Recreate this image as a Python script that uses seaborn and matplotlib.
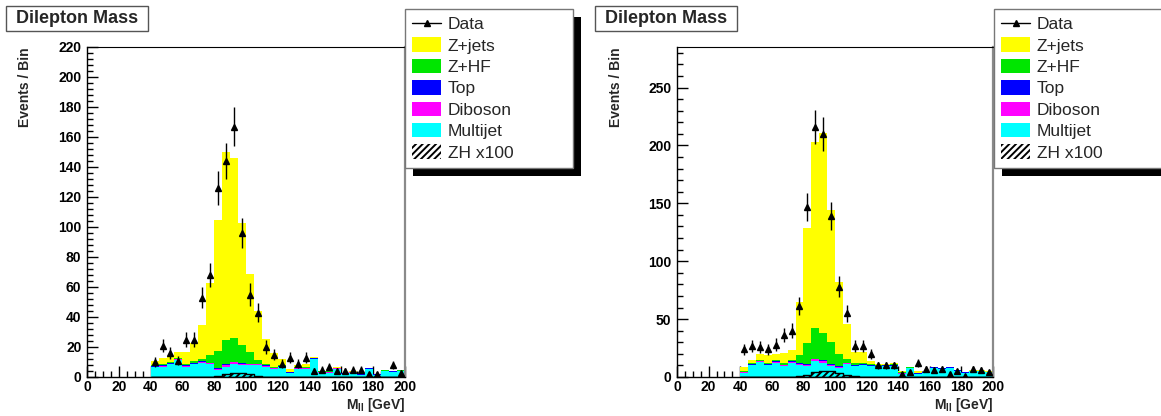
import numpy as np
import pandas as pd
import matplotlib
matplotlib.use("Agg")
import matplotlib.pyplot as plt
import seaborn as sns
from matplotlib.patches import Patch, Rectangle
from matplotlib.lines import Line2D
from matplotlib.ticker import MultipleLocator
from matplotlib.transforms import IdentityTransform

# ---------------------------------------------------------------- data
bin_edges = list(range(40, 205, 5))        # 5 GeV bins, 40-200 GeV

processes = ["Z+jets", "Z+HF", "Top", "Diboson", "Multijet"]
process_colors = ["#ffff00", "#00e600", "#0000ff", "#ff00ff", "#00ffff"]

# left channel
left_zjets = [3, 4.5, 4, 4, 7.5, 12.5, 23, 48.5, 87.7, 125.6, 120, 81.4, 52.3, 32.7, 16.2, 9.1,
              4.3, 1.9, 1.5, 2.0, 0.4, 0.3, 0.3, 0.3, 0.3, 0.3, 0.3, 0.3, 0.3, 0.3, 0.3, 0.3]
left_zhf = [0.7, 0.7, 0.7, 0.7, 1.2, 1.2, 1.6, 5.0, 11.4, 15.8, 15.9, 12.4, 7.8, 2.5, 1.0, 0.8,
            0.6, 0.5, 0.4, 0.4, 0.3, 0.3, 0.3, 0.3, 0.2, 0.2, 0.2, 0.2, 0.2, 0.2, 0.2, 0.2]
left_top = [0.4, 0.4, 0.4, 0.4, 0.4, 0.4, 0.4, 0.4, 0.4, 0.4, 0.4, 0.4, 0.4, 0.4, 0.4, 0.3,
            0.3, 0.3, 0.3, 0.3, 0.3, 0.2, 0.2, 0.2, 0.2, 0.2, 0.2, 0.2, 0.1, 0.1, 0.1, 0.1]
left_diboson = [0.4, 0.4, 0.4, 0.4, 0.4, 0.4, 0.5, 0.6, 1.0, 1.2, 1.2, 0.8, 0.5, 0.4, 0.4, 0.3,
                0.3, 0.3, 0.3, 0.3, 0.2, 0.2, 0.2, 0.2, 0.2, 0.1, 0.1, 0.1, 0.1, 0.1, 0.1, 0.1]
left_multijet = [6.5, 7, 8.5, 11.5, 7, 8.5, 9.5, 8.5, 4.5, 7, 8.5, 8, 8, 8, 7, 5.5,
                 6.5, 2.5, 5.5, 5.5, 12, 3, 3, 5.5, 2, 3, 1.5, 5.5, 1.5, 4, 3.5, 4]
left_zh100 = [0, 0, 0, 0, 0, 0, 0, 0.3, 1.0, 2.0, 2.7, 2.6, 1.8, 0.9, 0.3, 0,
              0, 0, 0, 0, 0, 0, 0, 0, 0, 0, 0, 0, 0, 0, 0, 0]
left_data = [10, 21, 16, 11, 25, 25, 53, 68, 126, 144, 167, 96, 55, 43, 20, 15,
             9, 13, 9, 13, 4, 5, 7, 4, 4, 5, 5, 2, 2, 0, 8, 3]

# right channel
right_zjets = [3.6, 2.4, 4.5, 6.7, 5.5, 9, 8, 46, 100, 161, 173, 114, 62, 29.9, 9.5, 9.1,
               2.2, 1.3, 0.9, 1.1, 0.9, 0.3, 1.2, 0.3, 0.4, 0.3, 0.3, 0.3, 0.4, 0.3, 0.3, 0.3]
right_zhf = [0.6, 1, 1, 1, 1.1, 1.5, 1.5, 7.1, 17.8, 26.2, 23.3, 18.8, 10.8, 3, 2.1, 1.5,
             1.2, 0.8, 0.6, 0.6, 0.4, 0.4, 0.4, 0.3, 0.3, 0.3, 0.3, 0.3, 0.2, 0.2, 0.2, 0.2]
right_top = [0.5, 0.5, 0.5, 0.5, 0.5, 0.5, 0.5, 0.5, 0.5, 0.5, 0.5, 0.5, 0.5, 0.5, 0.5, 0.5,
             0.5, 0.5, 0.5, 0.5, 0.4, 0.4, 0.4, 0.3, 0.3, 0.3, 0.3, 0.3, 0.2, 0.2, 0.2, 0.2]
right_diboson = [0.5, 0.5, 0.5, 0.5, 0.5, 0.5, 0.6, 0.8, 1.2, 1.8, 1.8, 1.2, 0.7, 0.5, 0.4, 0.4,
                 0.4, 0.3, 0.3, 0.3, 0.3, 0.3, 0.2, 0.2, 0.2, 0.2, 0.2, 0.2, 0.1, 0.1, 0.1, 0.1]
right_multijet = [3.4, 10, 13, 10, 12.4, 9.5, 12.4, 10.6, 9.5, 13.5, 12.4, 9.5, 8, 11.5, 9.5, 10,
                  9.5, 8.6, 9.2, 9.5, 3, 7.5, 2.8, 3.4, 7.8, 7, 7.8, 5.2, 3.6, 5, 5, 4]
right_zh100 = [0, 0, 0, 0, 0, 0, 0, 0.5, 2.0, 4.0, 5.0, 4.8, 3.8, 2.0, 0.5, 0,
               0, 0, 0, 0, 0, 0, 0, 0, 0, 0, 0, 0, 0, 0, 0, 0]
right_data = [24, 27, 26, 24, 28, 36, 40, 61, 147, 216, 210, 139, 78, 55, 27, 27,
              20, 10, 10, 10, 3, 4, 12, 7, 6, 7, 3, 5, 1, 7, 6, 4]

title_text = "Dilepton Mass"
y_title = "Events / Bin"
x_title = r"M$_{\mathbf{ll}}$ [GeV]"
legend_labels = ["Data", "Z+jets", "Z+HF", "Top", "Diboson", "Multijet", "ZH x100"]

# ---------------------------------------------------------------- style
sns.set_theme(style="ticks")
plt.rcParams["font.family"] = ["Liberation Sans", "DejaVu Sans"]
plt.rcParams["mathtext.fontset"] = "custom"
plt.rcParams["mathtext.rm"] = "Liberation Sans:bold"
plt.rcParams["mathtext.bf"] = "Liberation Sans:bold"
plt.rcParams["mathtext.it"] = "Liberation Sans:italic:bold"
plt.rcParams["hatch.linewidth"] = 1.4

W, H = 1161, 416
fig = plt.figure(figsize=(W / 100, H / 100), dpi=100)
fig.patch.set_facecolor("white")


def fx(px):
    return px / W


def fy(py):
    return 1 - py / H


edges_arr = np.asarray(bin_edges, dtype=float)
centers = 0.5 * (edges_arr[:-1] + edges_arr[1:])


def draw_panel(ax, comps, zh, data, ymax, ymajor, yminor):
    frames = []
    for name, vals in zip(processes, comps):
        frames.append(pd.DataFrame({"mass": centers, "events": vals, "process": name}))
    df = pd.concat(frames, ignore_index=True)
    sns.histplot(data=df, x="mass", weights="events", hue="process", hue_order=processes,
                 multiple="stack", bins=bin_edges, element="step", fill=True, alpha=1,
                 linewidth=0, palette=process_colors, legend=False, ax=ax)

    # ZH signal scaled by 100, hatched outline drawn unstacked
    zh_df = pd.DataFrame({"mass": centers, "events": zh})
    zh_df = zh_df[zh_df["events"] > 0]
    n_before = len(ax.collections)
    sns.histplot(data=zh_df, x="mass", weights="events", bins=bin_edges, element="step",
                 fill=True, color="black", alpha=1, linewidth=1.0, ax=ax)
    for art in ax.collections[n_before:]:
        art.set_facecolor("none")
        art.set_edgecolor("black")
        art.set_hatch("/////")
        art.set_zorder(3)

    d = np.asarray(data, dtype=float)
    mask = d > 0
    ax.errorbar(centers[mask], d[mask], yerr=np.sqrt(d[mask]), fmt="^", color="black",
                ms=4.8, elinewidth=1.0, capsize=0, zorder=6)

    ax.set_xlim(0, 200)
    ax.set_ylim(0, ymax)
    ax.xaxis.set_major_locator(MultipleLocator(20))
    ax.xaxis.set_minor_locator(MultipleLocator(5))
    ax.yaxis.set_major_locator(MultipleLocator(ymajor))
    ax.yaxis.set_minor_locator(MultipleLocator(yminor))
    ax.tick_params(which="both", direction="in", top=False, right=False, colors="black",
                   labelsize=10)
    ax.tick_params(which="major", length=8, width=1)
    ax.tick_params(which="minor", length=4, width=1)
    ax.tick_params(axis="x", pad=2)
    ax.tick_params(axis="y", pad=4)
    for lbl in ax.get_xticklabels() + ax.get_yticklabels():
        lbl.set_fontweight("bold")

    for side in ("left", "bottom"):
        ax.spines[side].set_color("black")
        ax.spines[side].set_linewidth(1.0)
    ax.spines["top"].set_color("black")
    ax.spines["top"].set_linewidth(0.8)
    ax.spines["right"].set_color("#8a8a8a")
    ax.spines["right"].set_linewidth(1.6)
    ax.set_facecolor("white")
    ax.grid(False)

    ax.set_ylabel(y_title, loc="top", fontsize=10, fontweight="bold")
    ax.yaxis.set_label_coords(-0.172, 1.0)
    ax.set_xlabel(x_title, loc="right", fontsize=10, fontweight="bold")
    ax.xaxis.set_label_coords(1.0, -0.058)


ax_l = fig.add_axes([fx(87), fy(377), fx(405) - fx(87), fy(47) - fy(377)])
ax_r = fig.add_axes([fx(677), fy(377), fx(993) - fx(677), fy(47) - fy(377)])

draw_panel(ax_l, [left_zjets, left_zhf, left_top, left_diboson, left_multijet],
           left_zh100, left_data, 220, 20, 4)
draw_panel(ax_r, [right_zjets, right_zhf, right_top, right_diboson, right_multijet],
           right_zh100, right_data, 285, 50, 10)


def title_box(x0):
    fig.add_artist(Rectangle((fx(x0), fy(31)), fx(142), 25 / H, transform=fig.transFigure,
                             facecolor="white", edgecolor="#555555", linewidth=1.0, zorder=10))
    fig.text(fx(x0 + 71), fy(18.5), title_text, ha="center", va="center", fontsize=13,
             fontweight="bold", zorder=11)


title_box(6)
title_box(595)

handles = [Line2D([0], [0], color="black", marker="^", ms=4, lw=1)]
for c in process_colors:
    handles.append(Patch(facecolor=c, edgecolor="none"))
handles.append(Patch(facecolor="white", edgecolor="black", hatch="/////", linewidth=0))


def add_legend(x0):
    leg = fig.legend(handles, legend_labels, loc="upper left",
                     bbox_to_anchor=(fx(x0), fy(168), fx(168), fy(9) - fy(168)),
                     mode="expand", borderaxespad=0, frameon=True, fancybox=False,
                     framealpha=1, edgecolor="#777777",
                     prop={"weight": "normal", "size": 12.5},
                     handlelength=1.7, handleheight=0.9, handletextpad=0.35,
                     labelspacing=0.30, borderpad=0.40)
    leg.get_frame().set_linewidth(1.0)
    leg.set_zorder(20)
    return leg


legends = [add_legend(405), add_legend(994)]
fig.canvas.draw()
for leg in legends:
    bb = leg.get_window_extent()
    fig.add_artist(Rectangle((bb.x0 + 8, bb.y0 - 8), bb.width, bb.height,
                             transform=IdentityTransform(), facecolor="black",
                             edgecolor="none", zorder=19))

fig.savefig("out.png", dpi=100)
